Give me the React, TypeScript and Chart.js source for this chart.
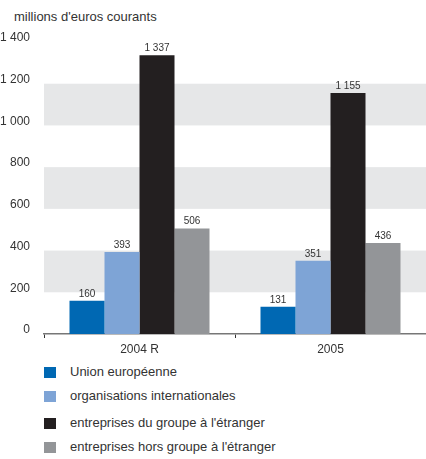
import React, { useEffect, useRef } from "react";
import { Chart, registerables } from "chart.js";

Chart.register(...registerables);

const categories = ["2004 R", "2005"];
const seriesNames = [
  "Union européenne",
  "organisations internationales",
  "entreprises du groupe à l'étranger",
  "entreprises hors groupe à l'étranger",
];
const unionEuropeenne = [160, 131];
const organisationsInternationales = [393, 351];
const entreprisesGroupe = [1337, 1155];
const entreprisesHorsGroupe = [506, 436];
const seriesColors = ["#0068b3", "#7ea4d6", "#231f20", "#939598"];
const bandRanges = [
  [200, 400],
  [600, 800],
  [1000, 1200],
];
const yTicks = [0, 200, 400, 600, 800, 1000, 1200, 1400];

const NUM_FONT = "'Liberation Sans', Arial, sans-serif";
const TXT_FONT = "'Liberation Sans', Arial, sans-serif";
const TEXT_COLOR = "#333333";

const fmt = (v: number) => {
  const s = String(Math.round(v));
  return s.replace(/\B(?=(\d{3})+(?!\d))/g, " ");
};

const bandsPlugin = {
  id: "bands",
  beforeDatasetsDraw(chart: any) {
    const { ctx, chartArea, scales } = chart;
    const y = scales.y;
    ctx.save();
    ctx.fillStyle = "#e6e7e8";
    for (const [a, b] of bandRanges) {
      const top = y.getPixelForValue(b);
      const bot = y.getPixelForValue(a);
      ctx.fillRect(chartArea.left, top, chartArea.right - chartArea.left, bot - top);
    }
    ctx.restore();
  },
};

const valueLabelsPlugin = {
  id: "valueLabels",
  afterDatasetsDraw(chart: any) {
    const { ctx } = chart;
    ctx.save();
    ctx.font = `10px ${NUM_FONT}`;
    ctx.fillStyle = TEXT_COLOR;
    ctx.textAlign = "center";
    ctx.textBaseline = "alphabetic";
    chart.data.datasets.forEach((ds: any, i: number) => {
      const meta = chart.getDatasetMeta(i);
      meta.data.forEach((bar: any, j: number) => {
        ctx.fillText(fmt(ds.data[j]), bar.x, bar.y - 4);
      });
    });
    ctx.restore();
  },
};

const seriesData = [unionEuropeenne, organisationsInternationales, entreprisesGroupe, entreprisesHorsGroupe];

export default function App() {
  const canvasRef = useRef<HTMLCanvasElement | null>(null);

  useEffect(() => {
    if (!canvasRef.current) return;
    const chart = new Chart(canvasRef.current, {
      type: "bar",
      data: {
        labels: categories,
        datasets: seriesNames.map((name, i) => ({
          label: name,
          data: seriesData[i],
          backgroundColor: seriesColors[i],
          borderWidth: 0,
          barPercentage: 1,
          categoryPercentage: 0.733,
        })),
      },
      options: {
        animation: false,
        responsive: false,
        maintainAspectRatio: false,
        devicePixelRatio: 1,
        layout: { padding: { top: 42, left: 0, right: 0, bottom: 0 } },
        plugins: {
          legend: { display: false },
          tooltip: { enabled: false },
          title: { display: false },
        },
        scales: {
          x: {
            offset: true,
            grid: {
              display: true,
              offset: true,
              drawOnChartArea: false,
              drawTicks: true,
              tickLength: 4,
              color: "#333333",
              lineWidth: 1,
            },
            border: { display: true, color: "#777777", width: 1.5 },
            ticks: {
              color: TEXT_COLOR,
              font: { family: NUM_FONT, size: 12 },
              padding: 4,
            },
            afterFit(scale: any) {
              scale.height = 26;
              scale.paddingLeft = 0;
              scale.paddingRight = 0;
            },
          },
          y: {
            min: 0,
            max: 1400,
            grid: { display: false },
            border: { display: false },
            afterBuildTicks(scale: any) {
              scale.ticks = yTicks.map((v) => ({ value: v }));
            },
            ticks: {
              color: TEXT_COLOR,
              font: { family: NUM_FONT, size: 12 },
              padding: 6,
              labelOffset: -4,
              callback: (v: any) => fmt(Number(v)),
            },
            afterFit(scale: any) {
              scale.width = 44;
              scale.paddingTop = 0;
              scale.paddingBottom = 0;
            },
          },
        },
      },
      plugins: [bandsPlugin, valueLabelsPlugin],
    } as any);
    return () => chart.destroy();
  }, []);

  const legendTops = [367, 391, 418, 442];

  return (
    <div
      style={{
        position: "absolute",
        left: 0,
        top: 0,
        width: 426,
        height: 459,
        background: "#ffffff",
        overflow: "hidden",
      }}
    >
      <div
        style={{
          position: "absolute",
          left: 14,
          top: 9,
          fontFamily: TXT_FONT,
          fontSize: 13,
          lineHeight: "16px",
          color: TEXT_COLOR,
          whiteSpace: "nowrap",
        }}
      >
        millions d'euros courants
      </div>
      <canvas
        ref={canvasRef}
        width={426}
        height={360}
        style={{ position: "absolute", left: 0, top: 0, width: 426, height: 360 }}
      />
      {seriesNames.map((name, i) => (
        <div key={name}>
          <div
            style={{
              position: "absolute",
              left: 44,
              top: legendTops[i],
              width: 12,
              height: 11,
              background: seriesColors[i],
            }}
          />
          <div
            style={{
              position: "absolute",
              left: 70,
              top: legendTops[i] - 3,
              fontFamily: TXT_FONT,
              fontSize: 13,
              lineHeight: "16px",
              color: TEXT_COLOR,
              whiteSpace: "nowrap",
            }}
          >
            {name}
          </div>
        </div>
      ))}
    </div>
  );
}
